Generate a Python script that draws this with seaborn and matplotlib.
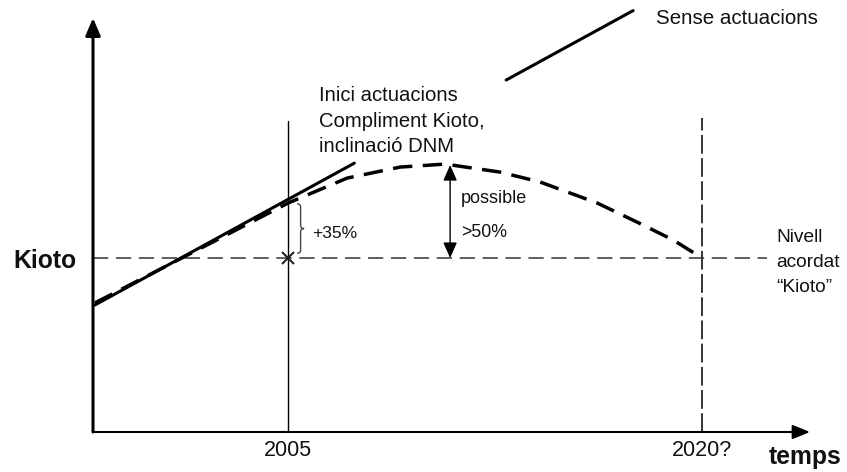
import matplotlib
matplotlib.use("Agg")
import matplotlib.pyplot as plt
from matplotlib.path import Path
from matplotlib.patches import PathPatch
from matplotlib.transforms import IdentityTransform
import pandas as pd
import seaborn as sns

# ---------------- data ----------------
KIOTO_LEVEL = 100          # agreed Kyoto level (index)
YEAR_ACTIONS = 2005        # start of actions
YEAR_TARGET = 2020         # target year ("2020?")
LEVEL_2005 = 135           # +35 % over Kyoto level
KIOTO_LINE_END = 2022.35   # where the dashed Kyoto line stops

sense_years = [1998.0, 2007.4, 2012.9, 2017.5]
sense_vals = [70.1, 160.4, 213.3, 257.5]
sense_seg = [0, 0, 1, 1]   # the line is interrupted by the text block

act_years = [1998.0, 2005.0, 2007.14, 2009.06, 2010.69, 2012.68, 2014.13,
             2016.2, 2017.64, 2018.95, 2020.0]
act_vals = [71.4, 135.0, 150.9, 157.9, 159.8, 154.7, 148.4,
            135.0, 122.9, 111.5, 100.0]

PEAK_YEAR = 2010.87
PEAK_VAL = 159.2

xtick_vals = [YEAR_ACTIONS, YEAR_TARGET]
xtick_labels = ["2005", "2020?"]
ytick_vals = [KIOTO_LEVEL]
ytick_labels = ["Kioto"]

# ---------------- style ----------------
sns.set_theme(style="white")
plt.rcParams["font.family"] = ["Liberation Sans", "DejaVu Sans"]
plt.rcParams["lines.scale_dashes"] = False
TXT = "#111111"

W, H = 847, 472
fig = plt.figure(figsize=(W / 100, H / 100), dpi=100)
ax = fig.add_axes([93 / W, 40 / H, 717 / W, 414 / H])
XMIN, XMAX = 1997.93, 2023.91
YMIN, YMAX = -10.76, 252.8
ax.set_xlim(XMIN, XMAX)
ax.set_ylim(YMIN, YMAX)

df_sense = pd.DataFrame({"year": sense_years, "val": sense_vals, "seg": sense_seg})
df_act = pd.DataFrame({"year": act_years, "val": act_vals})

# reference lines
ax.plot([XMIN, KIOTO_LINE_END], [KIOTO_LEVEL, KIOTO_LEVEL], color="#333333", lw=1.1,
        linestyle=(0, (11, 5.5)), clip_on=False, zorder=1)
ax.plot([YEAR_ACTIONS, YEAR_ACTIONS], [YMIN, 187.2], color="black", lw=1.0, zorder=1)
ax.plot([YEAR_TARGET, YEAR_TARGET], [YMIN, 189.1], color="#333333", lw=1.4,
        linestyle=(0, (13.5, 3.2)), zorder=1)

# "sense actuacions" line
sns.lineplot(data=df_sense, x="year", y="val", units="seg", estimator=None,
             sort=False, color="black", linewidth=2.2, clip_on=False, ax=ax, zorder=3)
# path with actions
sns.lineplot(data=df_act, x="year", y="val", estimator=None, sort=False,
             color="black", linewidth=2.5, linestyle=(0, (14, 7.5)), ax=ax, zorder=3)

# cross at 2005 / Kyoto level
ax.plot([YEAR_ACTIONS], [KIOTO_LEVEL], marker="x", markersize=8, mew=1.5,
        color="#222222", zorder=4)

# double arrow ">50%"
ax.annotate("", xy=(PEAK_YEAR, PEAK_VAL), xytext=(PEAK_YEAR, KIOTO_LEVEL),
            arrowprops=dict(arrowstyle="<|-|>,head_length=0.95,head_width=0.42",
                            color="black", lw=1.0, shrinkA=0, shrinkB=0,
                            mutation_scale=10))

# axis arrows
ax.annotate("", xy=(1, 0), xytext=(0, 0), xycoords="axes fraction",
            arrowprops=dict(arrowstyle="-|>,head_length=1.05,head_width=0.43",
                            color="black", lw=1.5, shrinkA=0, shrinkB=0,
                            mutation_scale=10))
ax.annotate("", xy=(0, 1), xytext=(0, 0), xycoords="axes fraction",
            arrowprops=dict(arrowstyle="-|>,head_length=1.05,head_width=0.45",
                            color="black", lw=2.2, shrinkA=0, shrinkB=0,
                            mutation_scale=10))
for s in ax.spines.values():
    s.set_visible(False)

# ticks
ax.set_xticks(xtick_vals)
ax.set_xticklabels(xtick_labels, fontsize=15.5, color=TXT)
ax.set_yticks(ytick_vals)
ax.set_yticklabels(ytick_labels, fontsize=17.8, fontweight="bold", color=TXT,
                   va="bottom")
ax.tick_params(axis="x", length=0, pad=6)
ax.tick_params(axis="y", length=0, pad=12)
for lbl in ax.get_yticklabels():
    lbl.set_verticalalignment("center_baseline")
ax.set_xlabel("")
ax.set_ylabel("")
ax.grid(False)

# brace "+35%"
X0, Y0 = ax.transData.transform((YEAR_ACTIONS, KIOTO_LEVEL + 3))
_, Y1 = ax.transData.transform((YEAR_ACTIONS, LEVEL_2005 - 0.5))
X0 += 9
w = 7.0
r = w / 2
ym = (Y0 + Y1) / 2
verts = [(X0, Y0), (X0 + r, Y0), (X0 + r, Y0 + r), (X0 + r, ym - r),
         (X0 + r, ym), (X0 + w, ym), (X0 + r, ym), (X0 + r, ym + r),
         (X0 + r, Y1 - r), (X0 + r, Y1), (X0, Y1)]
codes = [Path.MOVETO, Path.CURVE3, Path.CURVE3, Path.LINETO,
         Path.CURVE3, Path.CURVE3, Path.CURVE3, Path.CURVE3,
         Path.LINETO, Path.CURVE3, Path.CURVE3]
fig.add_artist(PathPatch(Path(verts, codes), transform=IdentityTransform(),
                         fill=False, edgecolor="#444444", lw=1.0))


def ptext(x, y, s, **kw):
    """Place text by figure pixel position (top-left origin)."""
    kw.setdefault("color", TXT)
    fig.text(x / W, 1 - y / H, s, **kw)


ptext(656, 19, "Sense actuacions", fontsize=14.8, va="center", ha="left")
for yb, line in zip([101, 127, 152], ["Inici actuacions", "Compliment Kioto,", "inclinació DNM"]):
    ptext(319, yb, line, fontsize=14.6, va="baseline", ha="left")
for yb, line in zip([242, 267, 292], ["Nivell", "acordat", "“Kioto”"]):
    ptext(776, yb, line, fontsize=13.8, va="baseline", ha="left")
ptext(312, 238, "+35%", fontsize=12.5, va="baseline", ha="left")
ptext(461, 203, "possible", fontsize=13, va="baseline", ha="left")
ptext(461, 237, ">50%", fontsize=12.8, va="baseline", ha="left")
ptext(769, 464, "temps", fontsize=17.8, fontweight="bold", va="baseline", ha="left")

fig.savefig("out.png", dpi=100)
